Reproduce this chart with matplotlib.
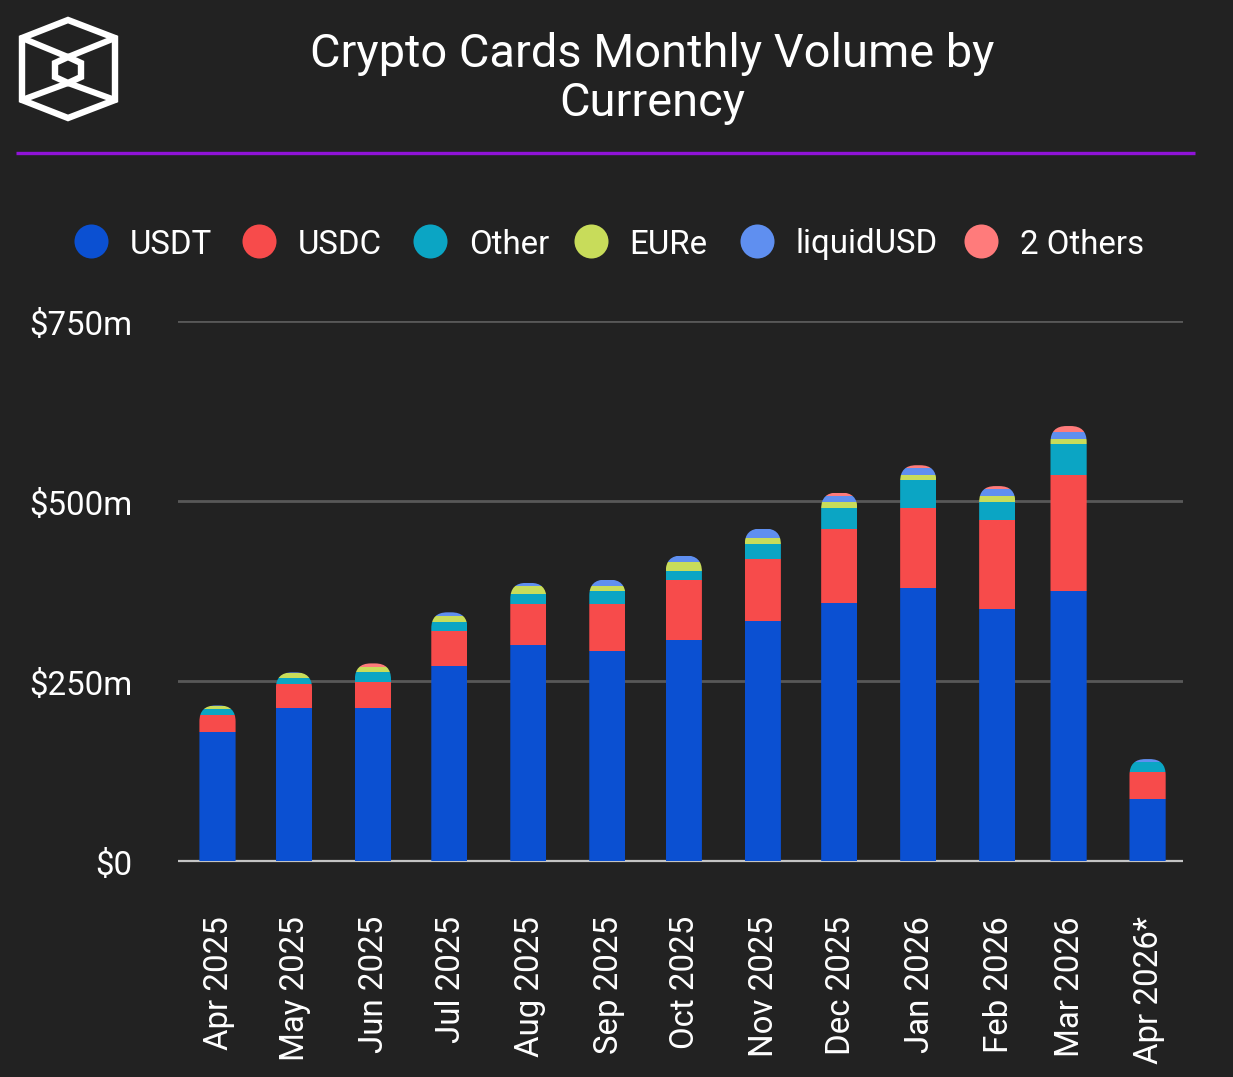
import numpy as np
import pandas as pd
import matplotlib
matplotlib.use('Agg')
import matplotlib.pyplot as plt
from matplotlib.patches import FancyBboxPatch, Polygon
from matplotlib.transforms import ScaledTranslation

plt.rcParams['font.family'] = ['Roboto', 'DejaVu Sans']

#%% data, $m per month
months = ['2025-04-01', '2025-05-01', '2025-06-01', '2025-07-01', '2025-08-01',
          '2025-09-01', '2025-10-01', '2025-11-01', '2025-12-01', '2026-01-01',
          '2026-02-01', '2026-03-01', '2026-04-01']
month_labels = ['Apr 2025', 'May 2025', 'Jun 2025', 'Jul 2025', 'Aug 2025',
                'Sep 2025', 'Oct 2025', 'Nov 2025', 'Dec 2025', 'Jan 2026',
                'Feb 2026', 'Mar 2026', 'Apr 2026*']
usdt = [178, 212, 212, 270, 299, 291, 307, 333, 358, 378.5, 349, 374, 86]
usdc = [24, 33, 36, 49, 58, 66, 83.5, 86, 103, 112, 125, 161.5, 37]
other = [9, 8.5, 14, 13, 13, 17, 12.5, 21.5, 29, 38, 24, 43, 14]
eure = [4, 7.5, 7, 8, 12, 8, 12, 8.5, 8, 8, 9, 7.5, 0]
liquid_usd = [0.5, 0.5, 0.5, 5, 4, 8.5, 9, 12.5, 9, 8.5, 9, 9, 4]
two_others = [0, 0, 4.5, 0, 0, 0, 0, 0, 4.5, 4.5, 4.5, 9, 0]

series_names = ['USDT', 'USDC', 'Other', 'EURe', 'liquidUSD', '2 Others']
series_values = [usdt, usdc, other, eure, liquid_usd, two_others]
colors = ['#0b50d2', '#f74b4b', '#0ba5c4', '#c8dc5a', '#5f8ff0', '#ff7b7b']
y_ticks = [0, 250, 500, 750]
y_labels = ['$0', '$250m', '$500m', '$750m']

#%% figure
W, H = 1233, 1077
bg = '#222222'
label_size = 23.8
fig = plt.figure(figsize=(W / 100, H / 100), dpi=100, facecolor=bg)

# plot area in pixels: x 178-1183, y 321-860.5
ax = fig.add_axes([178 / W, 1 - 860.5 / H, (1183 - 178) / W, (860.5 - 321) / H], facecolor=bg)

dates = pd.to_datetime(months)
ax.set_xlim(dates[0] - pd.Timedelta(days=15.5), dates[-1] + pd.Timedelta(days=13.9))
ax.set_ylim(0, 750)

bar_width = 14.2  # days
x_lo, x_hi = ax.get_xlim()
px_per_day = (1183 - 178) / (x_hi - x_lo)
px_per_m = (860.5 - 321) / 750
corner = 16 / px_per_day

bottom = np.zeros(len(months))
all_bars = []
for name, values, color in zip(series_names, series_values, colors):
    bars = ax.bar(dates, values, width=bar_width, bottom=bottom, color=color,
                  linewidth=0, zorder=3, label=name)
    all_bars.append(bars)
    bottom = bottom + np.array(values)

# rounded top of each stack
x_nums = ax.convert_xunits(dates)
for i, total in enumerate(bottom):
    clip = FancyBboxPatch((x_nums[i] - bar_width / 2, -60), bar_width, total + 60,
                          boxstyle=f'round,pad=0,rounding_size={corner}',
                          mutation_aspect=px_per_day / px_per_m,
                          transform=ax.transData)
    for bars in all_bars:
        bars[i].set_clip_path(clip)

ax.set_yticks(y_ticks, y_labels)
ax.set_xticks(dates, month_labels, rotation=90)
ax.tick_params(axis='y', length=0, pad=33, labelsize=label_size, labelcolor='white')
ax.tick_params(axis='x', length=0, pad=40, labelsize=label_size, labelcolor='white')
# tick labels sit a little lower / further right than the ticks
for label in ax.get_yticklabels():
    label.set_va('center')
    label.set_transform(label.get_transform() + ScaledTranslation(0, -5 / 100, fig.dpi_scale_trans))
for label in ax.get_xticklabels():
    label.set_transform(label.get_transform() + ScaledTranslation(1.5 / 100, 0, fig.dpi_scale_trans))
ax.grid(axis='y', color='#585858', linewidth=2.0, zorder=1)
ax.grid(axis='x', visible=False)
for side in ['top', 'left', 'right']:
    ax.spines[side].set_visible(False)
ax.spines['bottom'].set_color('#c4c4c4')
ax.spines['bottom'].set_linewidth(1.6)
ax.spines['bottom'].set_capstyle('butt')
ax.spines['bottom'].set_zorder(2)

#%% header, logo and legend, overlay in pixel coordinates
top = fig.add_axes([0, 0, 1, 1], facecolor='none')
top.set_xlim(0, W)
top.set_ylim(H, 0)
top.axis('off')

top.text(652, 78.5, 'Crypto Cards Monthly Volume by\nCurrency', color='white', fontsize=33.8,
         ha='center', va='center', linespacing=1.15)
top.plot([16, 1195], [153, 153], color='#9013d8', linewidth=2.4, solid_capstyle='butt')

# logo
logo = dict(color='white', linewidth=4.4, solid_capstyle='round', solid_joinstyle='miter')
top.add_patch(Polygon([(68, 20), (115, 38), (115, 100), (68, 118), (22, 100), (22, 38)],
                      closed=True, fill=False, edgecolor='white', linewidth=4.6))
top.add_patch(Polygon([(68, 57), (81, 63), (81, 77), (68, 83), (55, 77), (55, 63)],
                      closed=True, fill=False, edgecolor='white', linewidth=4.6))
top.plot([22, 68, 115], [38, 57, 38], **logo)
top.plot([22, 68, 115], [100, 83, 100], **logo)

# legend
dot_x = [90.5, 258.5, 429.5, 590.5, 756.5, 980.5]
text_x = [130, 297.5, 469.5, 629.5, 795.5, 1019.5]
for name, color, dx, tx in zip(series_names, colors, dot_x, text_x):
    top.plot(dx, 241, 'o', color=color, markersize=24.5, markeredgewidth=0)
    top.text(tx, 244.5, name, color='white', fontsize=label_size, ha='left', va='center')

fig.savefig('out.png', dpi=100, facecolor=bg)
